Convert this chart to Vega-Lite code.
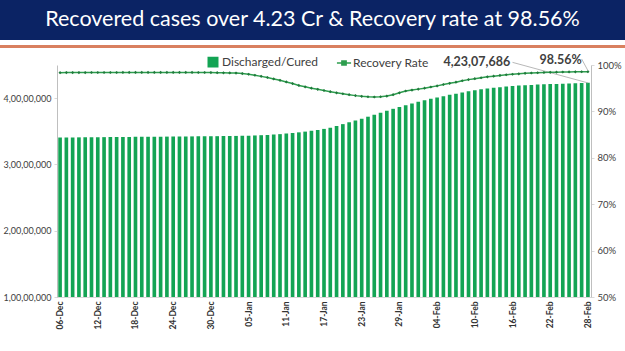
{
  "$schema": "https://vega.github.io/schema/vega-lite/v6.json",
  "padding": 0,
  "background": "white",
  "spacing": 1,
  "resolve": {"scale": {"color": "independent"}, "legend": {"color": "independent"}},
  "config": {
    "view": {"stroke": null},
    "font": "Lato",
    "axis": {"labelFont": "Lato", "grid": false, "labelOverlap": false, "labelBound": false, "labelSeparation": 0},
    "axisLeft": {"tickCount": 7, "labelOverlap": false},
    "axisRight": {"tickCount": 10, "labelOverlap": false},
    "legend": {"labelFont": "Lato"}
  },
  "vconcat": [
    {
      "spacing": 0,
      "vconcat": [
        {
          "width": 625,
          "height": 40,
          "view": {"fill": "#0b2364", "stroke": null},
          "data": {"values": [{"title": "Recovered cases over 4.23 Cr & Recovery rate at 98.56%"}]},
          "mark": {"type": "text", "color": "white", "fontSize": 21.5, "font": "Lato", "baseline": "middle", "align": "center"},
          "encoding": {"text": {"field": "title"}}
        },
        {
          "width": 625,
          "height": 3,
          "view": {"fill": "#d9805f", "stroke": null},
          "data": {"values": [{"title": ""}]},
          "mark": {"type": "text"},
          "encoding": {"text": {"field": "title"}}
        }
      ]
    },
    {
      "spacing": 0,
      "bounds": "flush",
      "resolve": {"scale": {"color": "independent"}, "legend": {"color": "independent"}},
      "hconcat": [
        {
          "width": 57,
          "height": 232,
          "data": {"values": [{"title": ""}]},
          "mark": {"type": "text"},
          "encoding": {"text": {"field": "title"}}
        },
        {
          "width": 534,
          "height": 232,
          "data": {"values": [
            {"date": "06-Dec", "recovered": 34061000, "rate": 98.35},
            {"date": "07-Dec", "recovered": 34069000, "rate": 98.36},
            {"date": "08-Dec", "recovered": 34077000, "rate": 98.36},
            {"date": "09-Dec", "recovered": 34085000, "rate": 98.37},
            {"date": "10-Dec", "recovered": 34093000, "rate": 98.37},
            {"date": "11-Dec", "recovered": 34101000, "rate": 98.38},
            {"date": "12-Dec", "recovered": 34109000, "rate": 98.38},
            {"date": "13-Dec", "recovered": 34117000, "rate": 98.38},
            {"date": "14-Dec", "recovered": 34125000, "rate": 98.39},
            {"date": "15-Dec", "recovered": 34133000, "rate": 98.39},
            {"date": "16-Dec", "recovered": 34141000, "rate": 98.4},
            {"date": "17-Dec", "recovered": 34149000, "rate": 98.4},
            {"date": "18-Dec", "recovered": 34157000, "rate": 98.4},
            {"date": "19-Dec", "recovered": 34165000, "rate": 98.4},
            {"date": "20-Dec", "recovered": 34173000, "rate": 98.4},
            {"date": "21-Dec", "recovered": 34181000, "rate": 98.4},
            {"date": "22-Dec", "recovered": 34189000, "rate": 98.4},
            {"date": "23-Dec", "recovered": 34197000, "rate": 98.4},
            {"date": "24-Dec", "recovered": 34205000, "rate": 98.4},
            {"date": "25-Dec", "recovered": 34213000, "rate": 98.4},
            {"date": "26-Dec", "recovered": 34221000, "rate": 98.4},
            {"date": "27-Dec", "recovered": 34229000, "rate": 98.4},
            {"date": "28-Dec", "recovered": 34237000, "rate": 98.39},
            {"date": "29-Dec", "recovered": 34245000, "rate": 98.38},
            {"date": "30-Dec", "recovered": 34253000, "rate": 98.36},
            {"date": "31-Dec", "recovered": 34261000, "rate": 98.34},
            {"date": "01-Jan", "recovered": 34270000, "rate": 98.32},
            {"date": "02-Jan", "recovered": 34280000, "rate": 98.3},
            {"date": "03-Jan", "recovered": 34300000, "rate": 98.25},
            {"date": "04-Jan", "recovered": 34320000, "rate": 98.15},
            {"date": "05-Jan", "recovered": 34340000, "rate": 98.0},
            {"date": "06-Jan", "recovered": 34370000, "rate": 97.8},
            {"date": "07-Jan", "recovered": 34410000, "rate": 97.55},
            {"date": "08-Jan", "recovered": 34450000, "rate": 97.3},
            {"date": "09-Jan", "recovered": 34500000, "rate": 97.0},
            {"date": "10-Jan", "recovered": 34570000, "rate": 96.7},
            {"date": "11-Jan", "recovered": 34650000, "rate": 96.35},
            {"date": "12-Jan", "recovered": 34740000, "rate": 96.0},
            {"date": "13-Jan", "recovered": 34840000, "rate": 95.6},
            {"date": "14-Jan", "recovered": 34950000, "rate": 95.3},
            {"date": "15-Jan", "recovered": 35070000, "rate": 95.0},
            {"date": "16-Jan", "recovered": 35200000, "rate": 94.75},
            {"date": "17-Jan", "recovered": 35360000, "rate": 94.5},
            {"date": "18-Jan", "recovered": 35550000, "rate": 94.25},
            {"date": "19-Jan", "recovered": 35800000, "rate": 94.0},
            {"date": "20-Jan", "recovered": 36080000, "rate": 93.8},
            {"date": "21-Jan", "recovered": 36360000, "rate": 93.6},
            {"date": "22-Jan", "recovered": 36630000, "rate": 93.4},
            {"date": "23-Jan", "recovered": 36910000, "rate": 93.25},
            {"date": "24-Jan", "recovered": 37200000, "rate": 93.15},
            {"date": "25-Jan", "recovered": 37500000, "rate": 93.1},
            {"date": "26-Jan", "recovered": 37800000, "rate": 93.15},
            {"date": "27-Jan", "recovered": 38100000, "rate": 93.3},
            {"date": "28-Jan", "recovered": 38390000, "rate": 93.6},
            {"date": "29-Jan", "recovered": 38670000, "rate": 94.0},
            {"date": "30-Jan", "recovered": 38940000, "rate": 94.4},
            {"date": "31-Jan", "recovered": 39200000, "rate": 94.6},
            {"date": "01-Feb", "recovered": 39440000, "rate": 94.8},
            {"date": "02-Feb", "recovered": 39670000, "rate": 95.0},
            {"date": "03-Feb", "recovered": 39890000, "rate": 95.25},
            {"date": "04-Feb", "recovered": 40100000, "rate": 95.5},
            {"date": "05-Feb", "recovered": 40300000, "rate": 95.8},
            {"date": "06-Feb", "recovered": 40500000, "rate": 96.05},
            {"date": "07-Feb", "recovered": 40680000, "rate": 96.3},
            {"date": "08-Feb", "recovered": 40860000, "rate": 96.6},
            {"date": "09-Feb", "recovered": 41030000, "rate": 96.85},
            {"date": "10-Feb", "recovered": 41190000, "rate": 97.05},
            {"date": "11-Feb", "recovered": 41330000, "rate": 97.25},
            {"date": "12-Feb", "recovered": 41450000, "rate": 97.45},
            {"date": "13-Feb", "recovered": 41560000, "rate": 97.6},
            {"date": "14-Feb", "recovered": 41650000, "rate": 97.75},
            {"date": "15-Feb", "recovered": 41740000, "rate": 97.9},
            {"date": "16-Feb", "recovered": 41820000, "rate": 98.0},
            {"date": "17-Feb", "recovered": 41890000, "rate": 98.1},
            {"date": "18-Feb", "recovered": 41950000, "rate": 98.2},
            {"date": "19-Feb", "recovered": 42000000, "rate": 98.27},
            {"date": "20-Feb", "recovered": 42040000, "rate": 98.33},
            {"date": "21-Feb", "recovered": 42080000, "rate": 98.38},
            {"date": "22-Feb", "recovered": 42120000, "rate": 98.42},
            {"date": "23-Feb", "recovered": 42150000, "rate": 98.46},
            {"date": "24-Feb", "recovered": 42190000, "rate": 98.49},
            {"date": "25-Feb", "recovered": 42220000, "rate": 98.51},
            {"date": "26-Feb", "recovered": 42250000, "rate": 98.53},
            {"date": "27-Feb", "recovered": 42280000, "rate": 98.55},
            {"date": "28-Feb", "recovered": 42307686, "rate": 98.56}
          ]},
          "layer": [
            {
              "layer": [
                {
                  "mark": {"type": "bar", "clip": true},
                  "encoding": {
                    "x": {
                      "field": "date", "type": "ordinal",
                      "scale": {
                        "domain": ["06-Dec","07-Dec","08-Dec","09-Dec","10-Dec","11-Dec","12-Dec","13-Dec","14-Dec","15-Dec","16-Dec","17-Dec","18-Dec","19-Dec","20-Dec","21-Dec","22-Dec","23-Dec","24-Dec","25-Dec","26-Dec","27-Dec","28-Dec","29-Dec","30-Dec","31-Dec","01-Jan","02-Jan","03-Jan","04-Jan","05-Jan","06-Jan","07-Jan","08-Jan","09-Jan","10-Jan","11-Jan","12-Jan","13-Jan","14-Jan","15-Jan","16-Jan","17-Jan","18-Jan","19-Jan","20-Jan","21-Jan","22-Jan","23-Jan","24-Jan","25-Jan","26-Jan","27-Jan","28-Jan","29-Jan","30-Jan","31-Jan","01-Feb","02-Feb","03-Feb","04-Feb","05-Feb","06-Feb","07-Feb","08-Feb","09-Feb","10-Feb","11-Feb","12-Feb","13-Feb","14-Feb","15-Feb","16-Feb","17-Feb","18-Feb","19-Feb","20-Feb","21-Feb","22-Feb","23-Feb","24-Feb","25-Feb","26-Feb","27-Feb","28-Feb"],
                        "paddingInner": 0.42, "paddingOuter": 0.2
                      },
                      "axis": {
                        "title": null,
                        "values": ["06-Dec","12-Dec","18-Dec","24-Dec","30-Dec","05-Jan","11-Jan","17-Jan","23-Jan","29-Jan","04-Feb","10-Feb","16-Feb","22-Feb","28-Feb"],
                        "labelAngle": 270,
                        "labelFontSize": 8.5,
                        "labelFontWeight": "bold",
                        "labelColor": "#333333",
                        "ticks": false,
                        "labelPadding": 4,
                        "labelOverlap": false,
                        "domainColor": "#d9d9d9"
                      }
                    },
                    "y": {
                      "field": "recovered", "type": "quantitative",
                      "scale": {"domain": [10000000, 45000000], "zero": false, "nice": false},
                      "axis": {
                        "title": null,
                        "values": [10000000, 15000000, 20000000, 25000000, 30000000, 35000000, 40000000, 45000000],
                        "tickCount": 7,
                        "labelExpr": "floor(datum.value/10000000) + ',' + (floor((datum.value % 10000000)/100000) < 10 ? '0' : '') + floor((datum.value % 10000000)/100000) + ',00,000'",
                        "labelFontSize": 9,
                        "labelColor": "#404040",
                        "labelOverlap": false,
                        "tickSize": 3,
                        "tickColor": "#d9d9d9",
                        "domainColor": "#bfbfbf",
                        "labelPadding": 3
                      }
                    },
                    "color": {
                      "datum": "Discharged/Cured", "type": "nominal",
                      "scale": {"domain": ["Discharged/Cured", "Recovery Rate"], "range": ["#13a454", "#2e9e4f"]},
                      "legend": {
                        "orient": "none", "legendX": 150, "legendY": -9,
                        "direction": "horizontal", "title": null,
                        "labelFontSize": 12, "labelColor": "#404040",
                        "columnPadding": 14, "labelOffset": 3,
                        "encode": {
                          "symbols": {
                            "update": {
                              "shape": {"signal": "datum.value === 'Recovery Rate' ? 'M-1,0L1,0M-0.3,-0.3L0.3,-0.3L0.3,0.3L-0.3,0.3Z' : 'square'"},
                              "size": {"signal": "datum.value === 'Recovery Rate' ? 200 : 90"},
                              "fill": {"signal": "datum.value === 'Recovery Rate' ? '#2e9e4f' : '#13a454'"},
                              "stroke": {"signal": "datum.value === 'Recovery Rate' ? '#2e9e4f' : '#13a454'"},
                              "strokeWidth": {"value": 1.5},
                              "opacity": {"value": 1}
                            }
                          }
                        }
                      }
                    }
                  }
                },
                {
                  "data": {"values": [{"date": "15-Feb", "recovered": 45450000, "label": "4,23,07,686"}]},
                  "mark": {"type": "text", "align": "right", "dx": 4, "fontWeight": "bold", "fontSize": 12.5, "color": "#404040", "baseline": "middle"},
                  "encoding": {
                    "x": {"field": "date", "type": "ordinal"},
                    "y": {"field": "recovered", "type": "quantitative"},
                    "text": {"field": "label"}
                  }
                },
                {
                  "data": {"values": [{"date": "16-Feb", "recovered": 45400000, "date2": "28-Feb", "recovered2": 42300000}]},
                  "mark": {"type": "rule", "color": "#a6a6a6", "strokeWidth": 0.8},
                  "encoding": {
                    "x": {"field": "date", "type": "ordinal"},
                    "x2": {"field": "date2"},
                    "y": {"field": "recovered", "type": "quantitative"},
                    "y2": {"field": "recovered2"}
                  }
                }
              ]
            },
            {
              "layer": [
                {
                  "mark": {"type": "line", "strokeWidth": 1.5},
                  "encoding": {
                    "x": {"field": "date", "type": "ordinal"},
                    "y": {
                      "field": "rate", "type": "quantitative",
                      "scale": {"domain": [50, 100], "zero": false, "nice": false},
                      "axis": {
                        "orient": "right", "title": null,
                        "values": [50, 55, 60, 65, 70, 75, 80, 85, 90, 95, 100],
                        "tickCount": 10,
                        "labelExpr": "datum.value + '%'",
                        "labelFontSize": 9.5,
                        "labelColor": "#404040",
                        "labelOverlap": false,
                        "tickSize": 3,
                        "tickColor": "#d9d9d9",
                        "domainColor": "#bfbfbf",
                        "labelPadding": 3
                      }
                    },
                    "color": {"datum": "Recovery Rate", "type": "nominal"}
                  }
                },
                {
                  "mark": {"type": "point", "filled": true, "shape": "diamond", "size": 10, "color": "#1f7a3b", "opacity": 1},
                  "encoding": {
                    "x": {"field": "date", "type": "ordinal"},
                    "y": {"field": "rate", "type": "quantitative"}
                  }
                },
                {
                  "data": {"values": [{"date": "27-Feb", "rate": 101.1, "label": "98.56%"}]},
                  "mark": {"type": "text", "align": "right", "dx": 0, "fontWeight": "bold", "fontSize": 12.5, "color": "#404040", "baseline": "middle"},
                  "encoding": {
                    "x": {"field": "date", "type": "ordinal"},
                    "y": {"field": "rate", "type": "quantitative"},
                    "text": {"field": "label"}
                  }
                },
                {
                  "data": {"values": [{"date": "27-Feb", "rate": 101.3, "date2": "28-Feb", "rate2": 98.8}]},
                  "mark": {"type": "rule", "color": "#a6a6a6", "strokeWidth": 0.8},
                  "encoding": {
                    "x": {"field": "date", "type": "ordinal"},
                    "x2": {"field": "date2"},
                    "y": {"field": "rate", "type": "quantitative"},
                    "y2": {"field": "rate2"}
                  }
                }
              ]
            }
          ],
          "resolve": {"scale": {"y": "independent"}}
        }
      ]
    }
  ]
}
